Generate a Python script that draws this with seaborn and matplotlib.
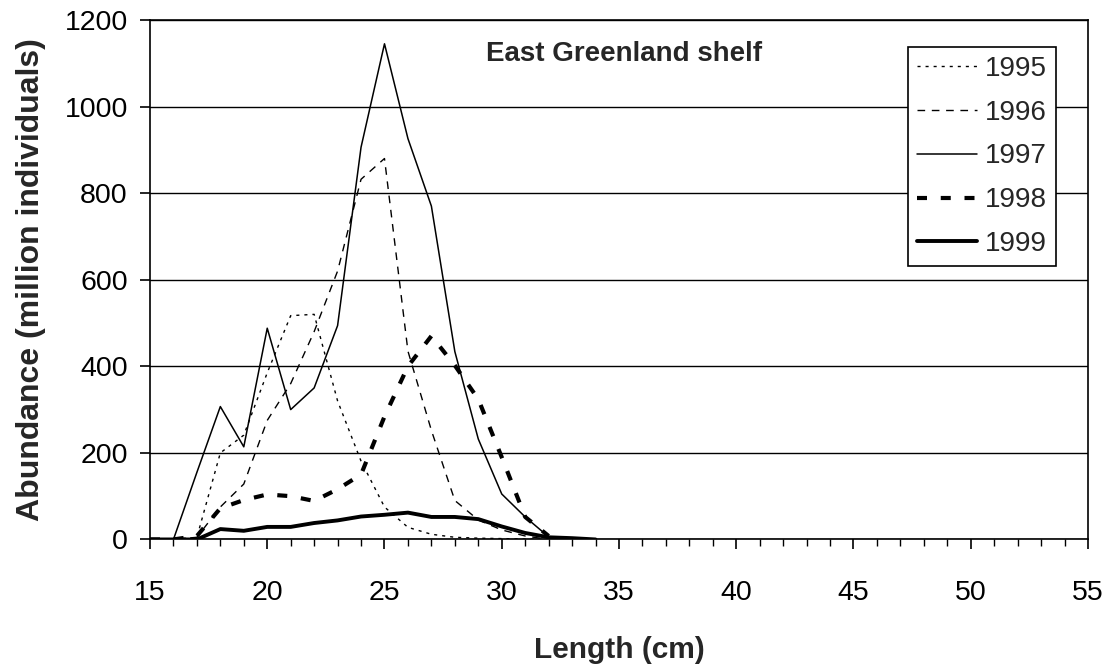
import numpy as np
import pandas as pd
import seaborn as sns
import matplotlib
matplotlib.use("Agg")
import matplotlib.pyplot as plt
from matplotlib.ticker import MultipleLocator

# ===============================
# Data
# ===============================
len_a = list(range(15, 33))          # 15..32 cm
len_b = list(range(15, 35))          # 15..34 cm

y1995 = [0, 0, 5, 200, 241, 385, 517, 520, 320, 181, 75, 28, 12, 5, 3, 2, 1, 0]
y1996 = [0, 0, 5, 75, 128, 275, 360, 480, 620, 832, 880, 435, 252, 90, 45, 22, 8, 0]
y1997 = [0, 0, 155, 307, 214, 488, 300, 350, 494, 906, 1145, 926, 770, 434, 232, 105, 52, 6]
y1998 = [0, 0, 8, 72, 91, 104, 100, 89, 116, 150, 284, 400, 470, 402, 324, 190, 52, 8]
y1999 = [0, 0, 0, 24, 20, 29, 29, 38, 44, 53, 57, 62, 52, 52, 47, 30, 15, 5, 3, 0]

years = ["1995", "1996", "1997", "1998", "1999"]
series = [(len_a, y1995), (len_a, y1996), (len_a, y1997), (len_a, y1998), (len_b, y1999)]

styles = {
    "1995": dict(linewidth=1.0, linestyle=(0, (2.2, 3.6))),
    "1996": dict(linewidth=1.0, linestyle=(0, (5.5, 4.8))),
    "1997": dict(linewidth=1.1, linestyle="-"),
    "1998": dict(linewidth=3.0, linestyle=(0, (2.4, 3.3))),
    "1999": dict(linewidth=2.8, linestyle="-"),
}

# ===============================
# Plot
# ===============================
sns.set_style("white")
plt.rcParams["font.family"] = ["Liberation Sans", "DejaVu Sans"]

fig = plt.figure(figsize=(11.11, 6.66), dpi=100)
ax = fig.add_axes([0.135, 0.190, 0.8443, 0.780])

for year, (xs, ys) in zip(years, series):
    df = pd.DataFrame({"Length": xs, "Abundance": ys})
    sns.lineplot(data=df, x="Length", y="Abundance", color="black",
                 label=year, ax=ax, **styles[year])

ax.set_xlim(15, 55)
ax.set_ylim(0, 1200)
ax.xaxis.set_major_locator(MultipleLocator(5))
ax.xaxis.set_minor_locator(MultipleLocator(1))
ax.yaxis.set_major_locator(MultipleLocator(200))
ax.yaxis.grid(True, color="black", linewidth=1.0)
ax.set_axisbelow(True)

for sp in ax.spines.values():
    sp.set_color("black")
    sp.set_linewidth(1.2)

ax.tick_params(axis="x", which="major", direction="out", length=7.5, width=1.2,
               labelsize=20.5, pad=22, colors="black")
ax.tick_params(axis="x", which="minor", direction="out", length=5, width=1.0,
               colors="black")
ax.tick_params(axis="y", which="major", direction="out", length=7, width=1.2,
               labelsize=20.5, pad=9, colors="black")
ax.tick_params(bottom=True, left=True, which="both")

ax.set_xlabel("Length (cm)", fontsize=21.5, fontweight="bold", labelpad=21)
ax.set_ylabel("Abundance (million individuals)", fontsize=23, fontweight="bold",
              labelpad=13)

ax.text(0.505, 0.9345, "East Greenland shelf", transform=ax.transAxes,
        ha="center", va="center", fontsize=20, fontweight="bold")

leg = ax.legend(loc="upper right", bbox_to_anchor=(0.9655, 0.9474), fontsize=20,
                frameon=True, fancybox=False, framealpha=1, edgecolor="black",
                handlelength=2.15, handletextpad=0.3, labelspacing=0.64,
                borderpad=0.31, borderaxespad=0)
leg.get_frame().set_linewidth(1.2)

fig.savefig("out.png", dpi=100, facecolor="white")
